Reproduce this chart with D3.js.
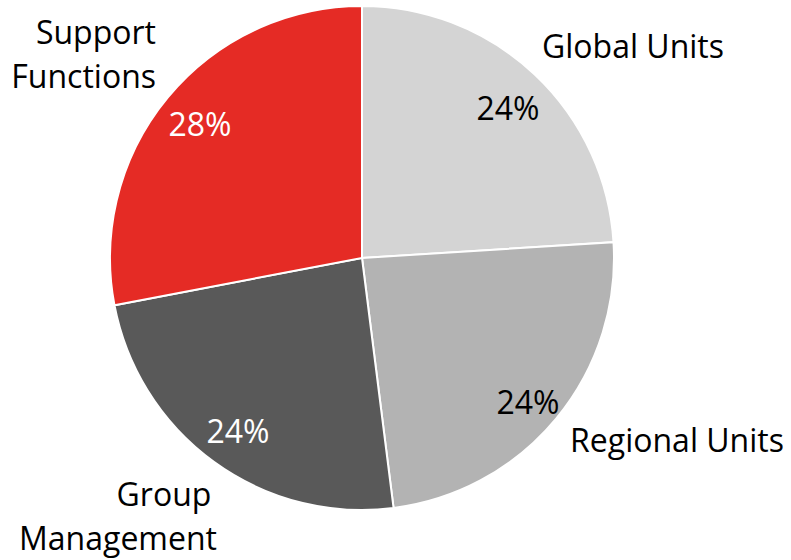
<!DOCTYPE html>
<html>
<head>
<meta charset="utf-8">
<script src="https://cdn.jsdelivr.net/npm/d3@7"></script>
<style>
  body { margin: 0; background: #fff; }
  text { font-family: "Open Sans", "Noto Sans", sans-serif; }
</style>
</head>
<body>
<div id="chart"></div>
<script>
const categories = ["Global Units", "Regional Units", "Group Management", "Support Functions"]
const shares = [24, 24, 24, 28]
const labelLines = [["Global Units"], ["Regional Units"], ["Group", "Management"], ["Support", "Functions"]]

const width = 791
const height = 560
const colors = ["#d4d4d4", "#b3b3b3", "#595959", "#e52b25"]
const pctColors = ["#000", "#000", "#fff", "#fff"]
const fontSize = 32

// hand placed like the original (x, first baseline, anchor)
const namePos = [
  { x: 633, y: 58, anchor: "middle" },
  { x: 677, y: 452, anchor: "middle" },
  { x: 118, y: 506, anchor: "middle", xs: [164, 118] },
  { x: 156, y: 44, anchor: "end" }
]
const pctPos = [[508, 120], [528, 414], [238, 443], [200, 136]]

let svg = d3.select("#chart")
  .append("svg")
  .attr("width", width)
  .attr("height", height)

const cx = 362, cy = 258, r = 252

let pie = d3.pie().sort(null).value(d => d)
let arc = d3.arc().innerRadius(0).outerRadius(r)

let g = svg.append("g").attr("transform", "translate(" + cx + "," + cy + ")")

g.selectAll("path")
  .data(pie(shares))
  .join("path")
  .attr("d", arc)
  .attr("fill", (d, i) => colors[i])
  .attr("stroke", "#fff")
  .attr("stroke-width", 2)

svg.append("g")
  .selectAll("text")
  .data(shares)
  .join("text")
  .attr("x", (d, i) => pctPos[i][0])
  .attr("y", (d, i) => pctPos[i][1])
  .attr("text-anchor", "middle")
  .attr("font-size", fontSize)
  .attr("fill", (d, i) => pctColors[i])
  .text(d => d + "%")

categories.forEach((c, i) => {
  let p = namePos[i]
  let t = svg.append("text")
    .attr("text-anchor", p.anchor)
    .attr("font-size", fontSize)
    .attr("fill", "#000")
  labelLines[i].forEach((line, j) => {
    t.append("tspan")
      .attr("x", p.xs ? p.xs[j] : p.x)
      .attr("y", p.y + j * 44)
      .text(line)
  })
})
</script>
</body>
</html>
